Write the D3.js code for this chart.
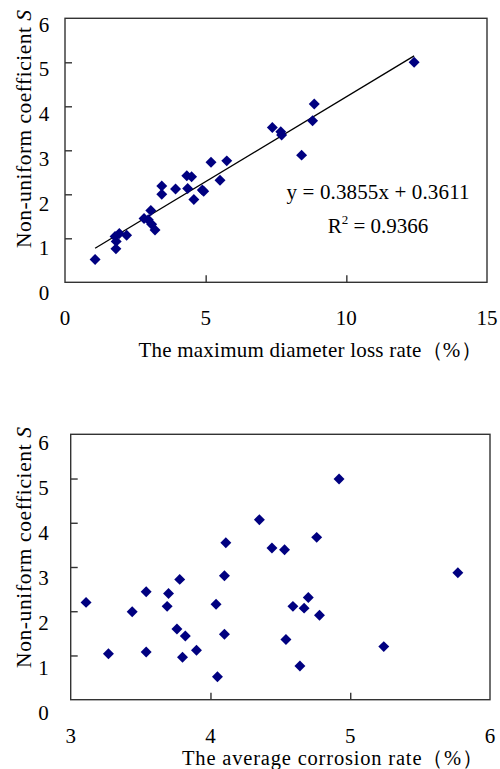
<!DOCTYPE html>
<html>
<head>
<meta charset="utf-8">
<script src="https://cdn.jsdelivr.net/npm/d3@7"></script>
<style>
html,body{margin:0;padding:0;background:#fff;}
svg{display:block;}
text{font-family:"Liberation Serif","Times New Roman",serif;fill:#000;}
</style>
</head>
<body>
<svg id="chart" width="500" height="769"></svg>
<script>
// ---- data ----
const topX = [1.07,1.81,1.78,1.93,2.19,1.82,2.81,3.05,2.96,3.08,3.2,3.44,3.44,3.93,4.33,4.5,4.36,4.58,4.88,4.93,5.19,5.51,5.75,7.37,7.67,7.7,8.41,8.8,8.86,12.41];
const topY = [0.52,0.76,1.04,1.11,1.07,0.93,1.45,1.63,1.42,1.32,1.19,2.19,2.0,2.12,2.42,2.4,2.13,1.88,2.1,2.07,2.73,2.32,2.76,3.52,3.42,3.35,2.89,3.67,4.05,5.0];
const botX = [3.11,3.27,3.44,3.54,3.54,3.69,3.70,3.78,3.76,3.82,3.80,3.90,4.04,4.05,4.10,4.11,4.10,4.35,4.44,4.53,4.92,4.76,5.77,4.70,4.59,4.67,4.78,4.54,4.64,5.24];
const botY = [2.2,1.04,1.99,2.44,1.08,2.11,2.4,2.72,1.6,1.44,0.96,1.12,2.16,0.52,2.8,3.55,1.48,4.07,3.43,3.39,4.99,3.67,2.87,2.31,2.11,2.07,1.91,1.36,0.76,1.2];
const topXTicks = [0,5,10,15];
const botXTicks = [3,4,5,6];
const yTicks = [0,1,2,3,4,5,6];
const fitSlope = 0.3855, fitIntercept = 0.3611, fitR2 = 0.9366;
const fitRange = [1.07, 12.41];
const yTitle = "Non-uniform coefficient ";
const yTitleItalic = "S";
const topXTitle = "The maximum diameter loss rate（%）";
const botXTitle = "The average corrosion rate（%）";

const svg = d3.select("#chart");
const navy = "#000080";

function panel(cfg){
  const g = svg.append("g");
  const x = d3.scaleLinear().domain(cfg.xDomain).range(cfg.xRange);
  const y = d3.scaleLinear().domain([0,6]).range(cfg.yRange);
  const yLab = d3.scaleLinear().domain([0,6]).range(cfg.yLabelRange);
  g.append("rect").attr("x",cfg.xRange[0]).attr("y",cfg.yRange[1])
    .attr("width",cfg.xRange[1]-cfg.xRange[0]).attr("height",cfg.yRange[0]-cfg.yRange[1])
    .attr("fill","none").attr("stroke","#333").attr("stroke-width",1.4);
  const yAx = g.append("g").attr("transform",`translate(${cfg.xRange[0]},0)`)
    .call(d3.axisLeft(y).tickValues([1,2,3,4,5]).tickSize(-7).tickFormat(""));
  yAx.select(".domain").remove();
  yAx.selectAll("line").attr("stroke","#333").attr("stroke-width",1.4);
  const inner = cfg.xTicks.slice(1,-1);
  const xAx = g.append("g").attr("transform",`translate(0,${cfg.yRange[0]})`)
    .call(d3.axisBottom(x).tickValues(inner).tickSize(-7).tickFormat(""));
  xAx.select(".domain").remove();
  xAx.selectAll("line").attr("stroke","#333").attr("stroke-width",1.4);
  g.selectAll(".yl").data(yTicks).join("text")
    .attr("x",cfg.yLabelX).attr("y",d=>yLab(d))
    .attr("text-anchor","middle").attr("font-size",21).text(d=>d);
  g.selectAll(".xl").data(cfg.xTicks).join("text")
    .attr("x",d=>x(d)).attr("y",cfg.xLabelY)
    .attr("text-anchor","middle").attr("font-size",21).text(d=>d);
  g.append("text").attr("x",cfg.xTitleX).attr("y",cfg.xTitleY)
    .attr("text-anchor","start").attr("font-size",cfg.xTitleSize)
    .attr("textLength",cfg.xTitleLen).attr("lengthAdjust","spacing").text(cfg.xTitle);
  const yt = g.append("text").attr("transform",`translate(31,${cfg.yTitleY}) rotate(-90)`)
    .attr("text-anchor","middle").attr("font-size",21.5)
    .attr("textLength",cfg.yTitleLen).attr("lengthAdjust","spacing");
  yt.append("tspan").text(yTitle);
  yt.append("tspan").attr("font-style","italic").text(yTitleItalic);
  if(cfg.fit){
    g.append("line")
      .attr("x1",x(fitRange[0])).attr("y1",y(fitSlope*fitRange[0]+fitIntercept))
      .attr("x2",x(fitRange[1])).attr("y2",y(fitSlope*fitRange[1]+fitIntercept))
      .attr("stroke","#000").attr("stroke-width",1.3);
  }
  const sym = d3.symbol().type(d3.symbolSquare).size(60);
  g.selectAll(".pt").data(cfg.xs.map((v,i)=>[v,cfg.ys[i]])).join("path")
    .attr("d",sym).attr("fill",navy)
    .attr("transform",d=>`translate(${x(d[0])},${y(d[1])}) rotate(45)`);
  return {g,x,y};
}

const panelTop = panel({xDomain:[0,15], xRange:[65,487], yRange:[282.3,18.3], xTicks:topXTicks,
  xs:topX, ys:topY, yLabelX:44, yLabelRange:[300,31.7], xLabelY:325,
  xTitle:topXTitle, xTitleX:138.5, xTitleY:357, xTitleSize:21, xTitleLen:343,
  yTitleY:129, yTitleLen:238, fit:true});
const panelBot = panel({xDomain:[3,6], xRange:[70.7,490], yRange:[699.7,434.3], xTicks:botXTicks,
  xs:botX, ys:botY, yLabelX:43.5, yLabelRange:[720,450], xLabelY:742.5,
  xTitle:botXTitle, xTitleX:182, xTitleY:765, xTitleSize:20.5, xTitleLen:301,
  yTitleY:547.5, yTitleLen:241, fit:false});

const ann = panelTop.g.append("g");
ann.append("text").attr("x",378).attr("y",198.5).attr("text-anchor","middle").attr("font-size",21)
  .attr("textLength",183).attr("lengthAdjust","spacing")
  .text(`y = ${fitSlope}x + ${fitIntercept}`);
const r2 = ann.append("text").attr("x",378).attr("y",233).attr("text-anchor","middle").attr("font-size",21);
r2.append("tspan").text("R");
r2.append("tspan").attr("font-size",13).attr("dy",-9).text("2");
r2.append("tspan").attr("dy",9).text(` = ${fitR2}`);
</script>
</body>
</html>
